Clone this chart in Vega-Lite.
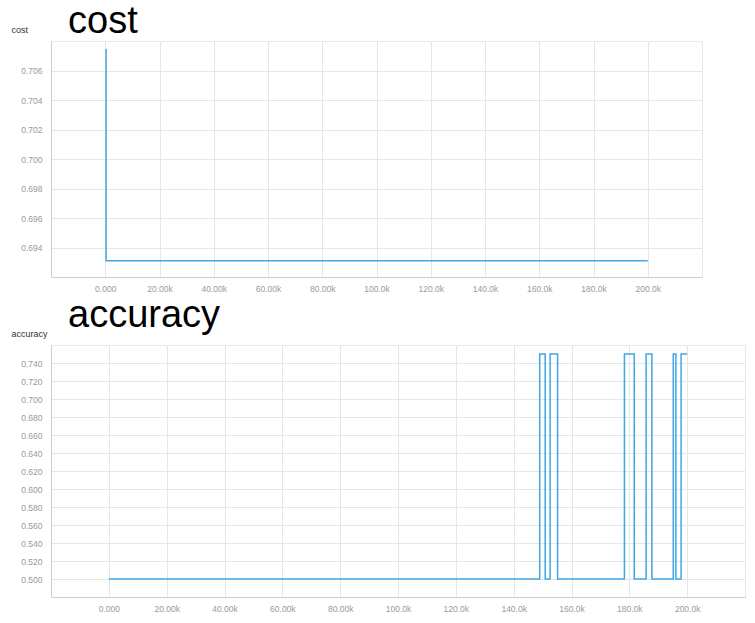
{
  "$schema": "https://vega.github.io/schema/vega-lite/v6.json",
  "background": "white",
  "padding": {"left": 10, "top": 2, "right": 8, "bottom": 4},
  "spacing": 3,
  "config": {
    "font": "Liberation Sans",
    "view": {"stroke": "#e9e9e9"},
    "axis": {
      "labelFont": "Liberation Sans",
      "labelFontSize": 8.5,
      "labelColor": "#9a9a9a",
      "gridColor": "#e6e6e6",
      "domainColor": "#cccccc",
      "ticks": false,
      "titleFont": "Liberation Sans",
      "titleFontSize": 9,
      "titleFontWeight": "normal",
      "titleColor": "#333333"
    },
    "title": {
      "font": "Liberation Sans",
      "fontSize": 38,
      "fontWeight": "normal",
      "color": "#000000",
      "anchor": "start",
      "frame": "group",
      "dx": 17
    },
    "line": {"interpolate": "step-after", "color": "#41a6e4", "strokeWidth": 1.5}
  },
  "datasets": {
    "cost": [
      {"step": 0, "cost": 0.7074},
      {"step": 300, "cost": 0.6931},
      {"step": 200000, "cost": 0.6931}
    ],
    "accuracy": [
      {"step": 0, "accuracy": 0.5},
      {"step": 149000, "accuracy": 0.75},
      {"step": 150900, "accuracy": 0.5},
      {"step": 152600, "accuracy": 0.75},
      {"step": 155200, "accuracy": 0.5},
      {"step": 178300, "accuracy": 0.75},
      {"step": 181700, "accuracy": 0.5},
      {"step": 185800, "accuracy": 0.75},
      {"step": 187800, "accuracy": 0.5},
      {"step": 195200, "accuracy": 0.75},
      {"step": 196100, "accuracy": 0.5},
      {"step": 197900, "accuracy": 0.75},
      {"step": 200000, "accuracy": 0.75}
    ]
  },
  "vconcat": [
    {
      "title": {"text": "cost", "offset": -16},
      "width": 651,
      "height": 236,
      "data": {"name": "cost"},
      "mark": "line",
      "encoding": {
        "x": {
          "field": "step",
          "type": "quantitative",
          "scale": {"domain": [-20000, 220000], "nice": false, "zero": false},
          "axis": {
            "title": null,
            "format": ".4s",
            "values": [0, 20000, 40000, 60000, 80000, 100000, 120000, 140000, 160000, 180000, 200000],
            "labelPadding": 7
          }
        },
        "y": {
          "field": "cost",
          "type": "quantitative",
          "scale": {"domain": [0.692, 0.708], "nice": false, "zero": false},
          "axis": {
            "title": "cost",
            "format": ".3f",
            "values": [0.694, 0.696, 0.698, 0.7, 0.702, 0.704, 0.706],
            "labelPadding": 9,
            "titleAngle": 0,
            "titleAlign": "left",
            "titleBaseline": "alphabetic",
            "titleX": -40,
            "titleY": -9
          }
        }
      }
    },
    {
      "title": {"text": "accuracy", "offset": -6},
      "width": 694,
      "height": 252,
      "data": {"name": "accuracy"},
      "mark": "line",
      "encoding": {
        "x": {
          "field": "step",
          "type": "quantitative",
          "scale": {"domain": [-20000, 220000], "nice": false, "zero": false},
          "axis": {
            "title": null,
            "format": ".4s",
            "values": [0, 20000, 40000, 60000, 80000, 100000, 120000, 140000, 160000, 180000, 200000],
            "labelPadding": 7
          }
        },
        "y": {
          "field": "accuracy",
          "type": "quantitative",
          "scale": {"domain": [0.48, 0.76], "nice": false, "zero": false},
          "axis": {
            "title": "accuracy",
            "format": ".3f",
            "values": [0.5, 0.52, 0.54, 0.56, 0.58, 0.6, 0.62, 0.64, 0.66, 0.68, 0.7, 0.72, 0.74],
            "labelPadding": 9,
            "titleAngle": 0,
            "titleAlign": "left",
            "titleBaseline": "alphabetic",
            "titleX": -40,
            "titleY": -9
          }
        }
      }
    }
  ]
}
